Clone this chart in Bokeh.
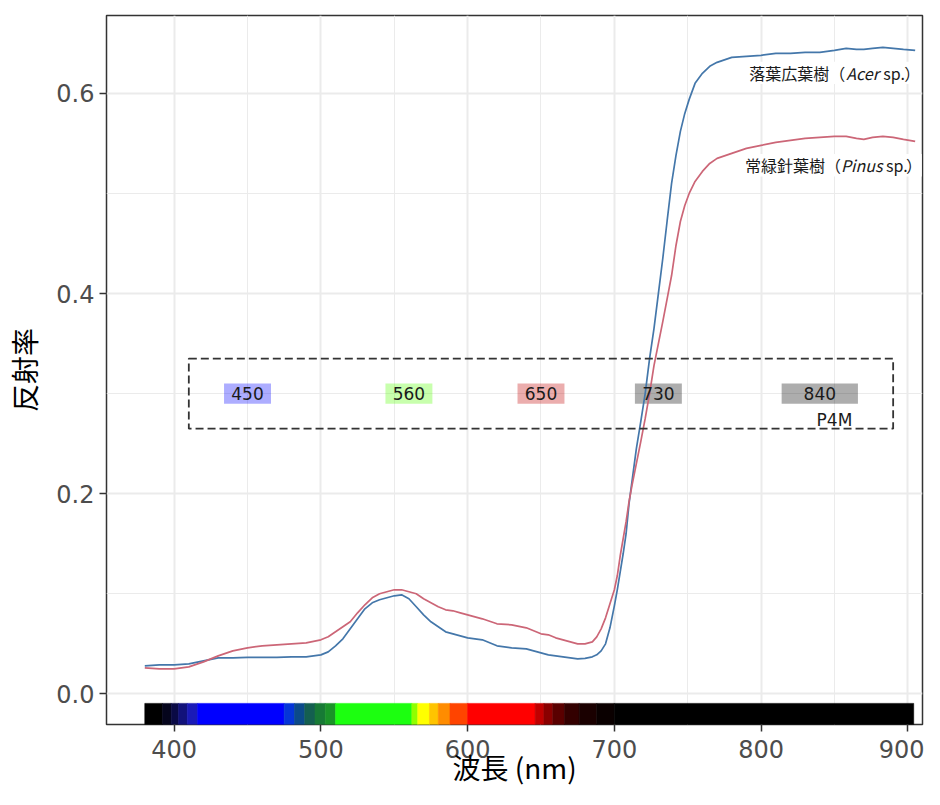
from bokeh.plotting import figure
from bokeh.models import Range1d, FixedTicker, Label, PrintfTickFormatter, BoxAnnotation
from bokeh.core.properties import value
from bokeh.embed import file_html
from bokeh.resources import INLINE

# ---------------- data ----------------
wavelength = [380, 390, 400, 410, 420, 430, 440, 450, 460, 470, 480, 490, 500, 505, 510, 515,
              520, 525, 530, 535, 540, 545, 550, 555, 560, 565, 570, 575, 580, 585, 590, 595,
              600, 610, 620, 630, 640, 650, 655, 660, 665, 670, 675, 680, 685, 688, 691, 694,
              697, 700, 702, 704, 706, 708, 710, 712, 715, 718, 721, 724, 727, 730, 733, 736,
              739, 742, 745, 748, 751, 755, 760, 765, 770, 780, 790, 800, 810, 820, 830, 840,
              850, 858, 865, 870, 876, 883, 890, 897, 905]

acer = [0.028, 0.029, 0.029, 0.030, 0.033, 0.036, 0.036, 0.0365, 0.0365, 0.0365, 0.037, 0.037,
        0.039, 0.042, 0.048, 0.055, 0.065, 0.075, 0.085, 0.091, 0.094, 0.096, 0.098, 0.099,
        0.095, 0.087, 0.079, 0.072, 0.067, 0.062, 0.060, 0.058, 0.056, 0.054, 0.048, 0.046,
        0.045, 0.041, 0.039, 0.038, 0.037, 0.036, 0.035, 0.0355, 0.037, 0.039, 0.043, 0.050,
        0.066, 0.088, 0.104, 0.122, 0.140, 0.160, 0.190, 0.212, 0.245, 0.272, 0.300, 0.335,
        0.365, 0.400, 0.435, 0.473, 0.510, 0.538, 0.562, 0.580, 0.594, 0.610, 0.620, 0.627,
        0.631, 0.636, 0.637, 0.638, 0.640, 0.640, 0.641, 0.641, 0.643, 0.645, 0.644, 0.644,
        0.645, 0.646, 0.645, 0.644, 0.643]

pinus = [0.026, 0.025, 0.025, 0.027, 0.032, 0.038, 0.043, 0.046, 0.048, 0.049, 0.050, 0.051,
         0.054, 0.057, 0.062, 0.067, 0.072, 0.081, 0.089, 0.096, 0.100, 0.102, 0.104, 0.104,
         0.102, 0.100, 0.095, 0.091, 0.087, 0.084, 0.083, 0.081, 0.079, 0.075, 0.070, 0.069,
         0.066, 0.060, 0.059, 0.056, 0.054, 0.052, 0.050, 0.050, 0.052, 0.057, 0.065, 0.076,
         0.090, 0.104, 0.118, 0.138, 0.155, 0.172, 0.192, 0.208, 0.230, 0.252, 0.275, 0.300,
         0.328, 0.350, 0.372, 0.395, 0.418, 0.448, 0.472, 0.488, 0.500, 0.512, 0.522, 0.530,
         0.535, 0.540, 0.545, 0.548, 0.551, 0.553, 0.555, 0.556, 0.557, 0.557, 0.555, 0.554,
         0.556, 0.557, 0.556, 0.554, 0.552]

band_center = [450, 560, 650, 730, 840]
band_halfwidth = [16, 16, 16, 16, 26]
band_labels = ["450", "560", "650", "730", "840"]
band_colors = ["#0000ff", "#55ff00", "#c00000", "#000000", "#000000"]

spec_start = [380, 392, 398, 403, 409, 416, 475, 482, 489, 496, 503, 510, 562, 566, 574, 580,
              588, 600, 646, 652, 658, 666, 676, 688, 700]
spec_end = spec_start[1:] + [904]
spec_color = ["#000000", "#05051c", "#0a0a45", "#12127a", "#1a1ab8", "#0000ff", "#0535d8",
              "#0b4a8a", "#145f50", "#177a35", "#1a9428", "#1cff10", "#90ff00", "#ffff00",
              "#ffc400", "#ff8c00", "#ff4400", "#ff0000", "#c00000", "#8a0000", "#5a0000",
              "#330000", "#1a0000", "#0a0000", "#000000"]

x_ticks = [400, 500, 600, 700, 800, 900]
x_minor = [350, 450, 550, 650, 750, 850, 950]
y_ticks = [0.0, 0.2, 0.4, 0.6]
y_minor = [0.1, 0.3, 0.5]

series_names = ["落葉広葉樹（", "常緑針葉樹（"]
genus_names = ["Acer", "Pinus"]

# ---------------- figure ----------------
p = figure(width=924, height=789, output_backend="svg", toolbar_location=None,
           x_range=Range1d(353.9, 910.0), y_range=Range1d(-0.0306, 0.6778),
           min_border_left=106, min_border_right=2, min_border_top=15, min_border_bottom=56,
           background_fill_color="white", border_fill_color="white")

p.outline_line_color = "#333333"
p.outline_line_width = 1.5

for ax, tk, mn in ((p.xaxis, x_ticks, x_minor), (p.yaxis, y_ticks, y_minor)):
    ax.ticker = FixedTicker(ticks=tk, minor_ticks=mn)
    ax.axis_line_color = None
    ax.major_tick_line_color = "#333333"
    ax.major_tick_line_width = 1.5
    ax.major_tick_out = 7
    ax.major_tick_in = 0
    ax.minor_tick_line_color = None
    ax.major_label_text_font = "DejaVu Sans"
    ax.major_label_text_font_size = "24px"
    ax.major_label_text_color = "#4d4d4d"
    ax.axis_label_text_font = "Noto Sans CJK JP"
    ax.axis_label_text_font_size = "28px"
    ax.axis_label_text_font_style = "normal"
    ax.axis_label_text_color = "#000000"
p.xaxis.major_label_standoff = 8
p.yaxis.major_label_standoff = 5
p.yaxis.formatter = PrintfTickFormatter(format="%.1f")
p.xaxis.axis_label = "波長 (nm)"
p.yaxis.axis_label = "反射率"
p.xaxis.axis_label_standoff = -14
p.yaxis.axis_label_standoff = 9

for g in (p.xgrid, p.ygrid):
    g.grid_line_color = "#ebebeb"
    g.grid_line_width = 2
    g.minor_grid_line_color = "#ebebeb"
    g.minor_grid_line_width = 1

# band boxes
p.quad(left=[c - h for c, h in zip(band_center, band_halfwidth)],
       right=[c + h for c, h in zip(band_center, band_halfwidth)],
       bottom=0.29, top=0.31, fill_color=band_colors, fill_alpha=0.32, line_color=None)

# curves
p.line(wavelength, acer, line_color="#4477AA", line_width=1.7)
p.line(wavelength, pinus, line_color="#CC6677", line_width=1.7)

# band labels
p.text(x=band_center, y=[0.3] * len(band_center), text=band_labels,
       text_align="center", text_baseline="middle",
       text_font=value("DejaVu Sans"), text_font_size="17px", text_color="#1a1a1a")
p.text(x=[850], y=[0.2735], text=["P4M"], text_align="center", text_baseline="middle",
       text_font=value("DejaVu Sans"), text_font_size="17px", text_color="#1a1a1a")

# dashed box
p.quad(left=[410], right=[890], bottom=[0.265], top=[0.335], fill_color=None,
       line_color="#333333", line_width=1.8, line_dash="8 4")

# spectrum bar
p.quad(left=spec_start, right=spec_end, bottom=-0.031, top=-0.0095,
       fill_color=spec_color, line_color=spec_color, line_width=0.6)

# species labels (mixed roman / italic) on a white background
label_x = [792, 789]
label_y = [0.6205, 0.5282]
label_right = [907.5, 909.5]
offsets = [(97, 134, 155), (96, 141, 161)]
for name, genus, lx, ly, lr, (o_gen, o_sp, o_par) in zip(series_names, genus_names, label_x,
                                                        label_y, label_right, offsets):
    p.add_layout(BoxAnnotation(left=lx - 1.2, right=lr, bottom=ly - 0.0112, top=ly + 0.0112,
                               fill_color="white", fill_alpha=1.0, line_color=None,
                               level="annotation"))
    parts = [(name, "normal", 0), (genus, "italic", o_gen), ("sp.", "normal", o_sp),
             ("）", "normal", o_par)]
    for txt, style, off in parts:
        p.add_layout(Label(x=lx, y=ly, x_offset=off, text=txt,
                           text_align="left", text_baseline="middle",
                           text_font="Noto Sans CJK JP", text_font_size="16px",
                           text_font_style=style, text_color="#1a1a1a"))

open("out.html", "w").write(file_html(p, INLINE))
